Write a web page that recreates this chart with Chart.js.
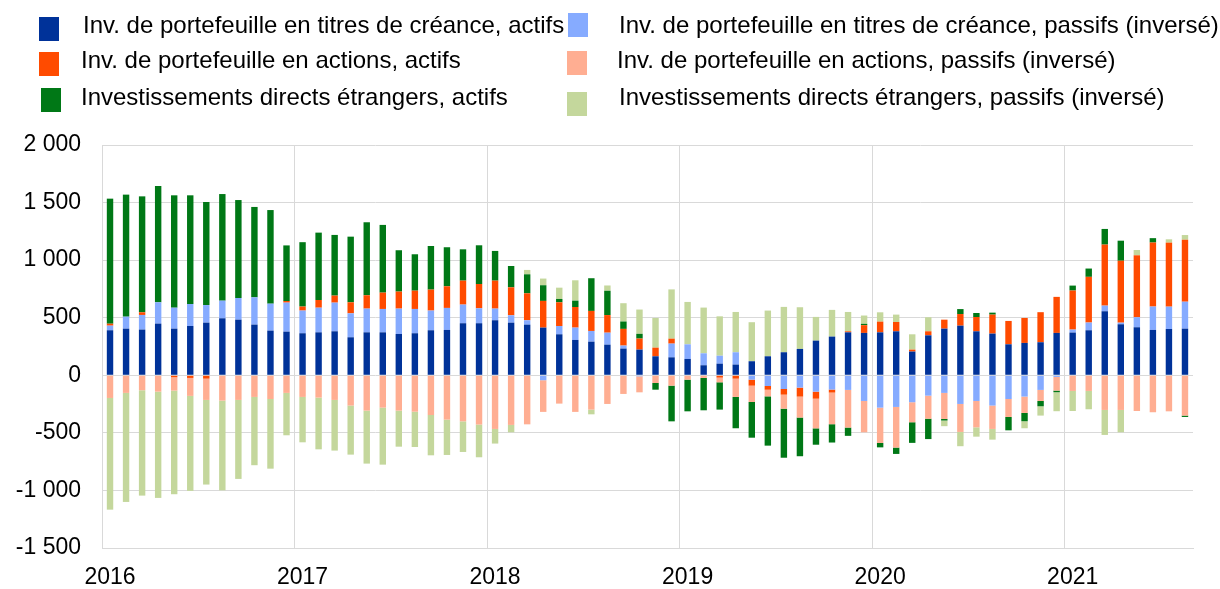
<!DOCTYPE html>
<html>
<head>
<meta charset="utf-8">
<script src="https://cdn.jsdelivr.net/npm/chart.js@4.4.1/dist/chart.umd.min.js"></script>
<style>
  body { margin: 0; background: #fff; }
  #wrap { position: relative; width: 1220px; height: 589px; }
  #chart { position: absolute; left: 0; top: 0; }
  .key { position: absolute; width: 20px; height: 24px; }
  .lab { position: absolute; font-family: 'Liberation Sans', Arial, sans-serif; font-size: 24px; line-height: 24px; color: #000; white-space: nowrap; }
</style>
</head>
<body>
<div id="wrap">
  <canvas id="chart" width="1220" height="589"></canvas>
  <div id="legend"></div>
</div>
<script>
// Years shown on the x axis (one bar per month, Jan 2016 - Aug 2021)
const years = ['2016', '2017', '2018', '2019', '2020', '2021'];
const lastYearMonths = 8;

// Series values, one per month
const debtAssets = [
  391, 405, 397, 449, 405, 428, 457, 495, 483, 440, 388, 379,
  365, 373, 382, 330, 373, 373, 359, 365, 391, 394, 452, 452,
  478, 457, 440, 414, 356, 307, 292, 266, 232, 223, 165, 156,
  142, 87, 101, 93, 122, 165, 200, 229, 301, 336, 373, 368,
  373, 382, 206, 347, 405, 431, 382, 362, 269, 281, 287, 368,
  371, 391, 556, 443, 417, 394, 402, 405
];
const debtLiabilities = [
  40, 104, 127, 185, 182, 191, 153, 153, 188, 237, 234, 252,
  197, 214, 249, 208, 206, 203, 220, 211, 171, 191, 162, 130,
  101, 64, 38, -43, 72, 107, 93, 104, 26, -9, 0, 119,
  127, 104, 69, 107, -38, -93, -119, -107, -142, -124, -127, -223,
  -281, -275, -234, -177, -153, -249, -223, -263, -206, -185, -127, -14,
  26, 67, 49, 14, 87, 203, 194, 234
];
const equityAssets = [
  17, 0, 23, 0, -17, -23, -29, 0, 0, 0, 0, 14,
  35, 67, 61, 96, 116, 142, 148, 159, 182, 188, 208, 211,
  243, 243, 234, 232, 206, 179, 174, 153, 145, 96, 75, 43,
  0, 0, -20, -29, -52, -32, -49, -78, -61, -26, 9, 67,
  93, 81, 17, 35, 78, 101, 124, 165, 203, 217, 261, 313,
  339, 397, 530, 538, 538, 556, 556, 538
];
const equityLiabilities = [
  -197, -153, -130, -142, -116, -156, -185, -220, -214, -188, -206, -153,
  -188, -194, -214, -263, -307, -281, -307, -316, -345, -385, -400, -428,
  -466, -431, -426, -275, -246, -318, -298, -249, -162, -139, -67, -90,
  -38, -23, -41, -159, -142, -58, -122, -182, -258, -275, -327, -272,
  -307, -353, -174, -200, -226, -243, -229, -203, -156, -142, -96, -119,
  -136, -136, -301, -301, -310, -321, -313, -350
];
const fdiAssets = [
  1086, 1060, 1007, 1010, 976, 944, 895, 926, 851, 785, 813, 483,
  559, 585, 527, 570, 634, 588, 359, 316, 379, 339, 272, 336,
  258, 185, 165, 136, 29, 55, 284, 211, 64, 41, -58, -310,
  -275, -281, -237, -272, -310, -428, -426, -336, -142, -159, -72, 12,
  -38, -55, -179, -177, -14, 43, 35, 17, -116, -72, -46, -14,
  43, 72, 136, 174, 0, 38, 0, -12
];
const fdiLiabilities = [
  -970, -947, -915, -923, -900, -825, -735, -779, -686, -593, -605, -368,
  -394, -449, -440, -426, -460, -495, -313, -307, -350, -307, -266, -284,
  -127, -64, 38, 58, 98, 177, -41, 46, 159, 211, 258, 428,
  368, 397, 342, 350, 339, 397, 394, 362, 206, 232, 168, 72,
  81, 64, 133, 122, -49, -124, -81, -93, 0, -61, -81, -165,
  -174, -159, -217, -194, 46, 0, 29, 41
];

const seriesNames = [
  'Inv. de portefeuille en titres de créance, actifs',
  'Inv. de portefeuille en titres de créance, passifs (inversé)',
  'Inv. de portefeuille en actions, actifs',
  'Inv. de portefeuille en actions, passifs (inversé)',
  'Investissements directs étrangers, actifs',
  'Investissements directs étrangers, passifs (inversé)'
];
const seriesColors = ['#003299', '#86abff', '#ff4b00', '#ffae92', '#007816', '#c4d79c'];

// Month categories
const months = [];
years.forEach((y, k) => {
  const n = k === years.length - 1 ? lastYearMonths : 12;
  for (let m = 1; m <= n; m++) months.push(y + '-' + String(m).padStart(2, '0'));
});

const FONT = "'Liberation Sans', Arial, sans-serif";
const GRID = '#d9d9d9';

// HTML legend, two columns of three rows
const legendSpots = [
  { kx: 39, ky: 17, tx: 83, ty: 13 },
  { kx: 568, ky: 13, tx: 619, ty: 13 },
  { kx: 39, ky: 52, tx: 81, ty: 48 },
  { kx: 567, ky: 51, tx: 617, ty: 48 },
  { kx: 41, ky: 88, tx: 81, ty: 85 },
  { kx: 567, ky: 92, tx: 619, ty: 85 }
];
const legend = document.getElementById('legend');
seriesNames.forEach((name, i) => {
  const s = legendSpots[i];
  const key = document.createElement('div');
  key.className = 'key';
  key.style.left = s.kx + 'px';
  key.style.top = s.ky + 'px';
  key.style.background = seriesColors[i];
  legend.appendChild(key);
  const lab = document.createElement('div');
  lab.className = 'lab';
  lab.style.left = s.tx + 'px';
  lab.style.top = s.ty + 'px';
  lab.textContent = name;
  legend.appendChild(lab);
});

function fmt(v) {
  const s = String(Math.abs(v)).replace(/\B(?=(\d{3})+(?!\d))/g, ' ');
  return (v < 0 ? '-' : '') + s;
}

const allSeries = [debtAssets, debtLiabilities, equityAssets, equityLiabilities, fdiAssets, fdiLiabilities];

new Chart(document.getElementById('chart'), {
  type: 'bar',
  data: {
    labels: months,
    datasets: allSeries.map((d, i) => ({
      label: seriesNames[i],
      data: d,
      backgroundColor: seriesColors[i],
      borderWidth: 0,
      categoryPercentage: 1,
      barPercentage: 0.4
    }))
  },
  options: {
    responsive: false,
    animation: false,
    devicePixelRatio: 1,
    layout: { padding: { top: 145, right: 27, bottom: 0, left: 0 } },
    plugins: { legend: { display: false }, tooltip: { enabled: false } },
    scales: {
      x: {
        stacked: true,
        offset: true,
        grid: {
          offset: true,
          drawTicks: false,
          color: ctx => (ctx.index % 12 === 0 ? GRID : 'rgba(0,0,0,0)')
        },
        border: { display: true, color: GRID },
        ticks: {
          autoSkip: false,
          maxRotation: 0,
          padding: 16,
          color: '#000',
          font: { family: FONT, size: 23 },
          callback: function (v, i) {
            const lab = this.getLabelForValue(v);
            return lab.endsWith('-01') ? lab.slice(0, 4) : '';
          }
        },
        afterFit: s => { s.height = 41; }
      },
      y: {
        stacked: true,
        min: -1500,
        max: 2000,
        grid: { color: GRID, drawTicks: false },
        border: { display: true, color: GRID },
        ticks: {
          stepSize: 500,
          padding: 21,
          color: '#000',
          font: { family: FONT, size: 23 },
          callback: v => fmt(v)
        },
        afterFit: s => { s.width = 102; }
      }
    }
  }
});
</script>
</body>
</html>
